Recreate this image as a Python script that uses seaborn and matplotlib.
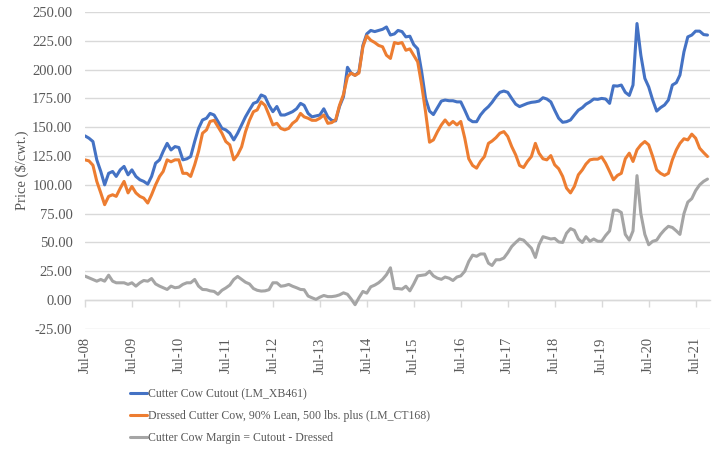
import numpy as np
import pandas as pd
import matplotlib
matplotlib.use('Agg')
import matplotlib.pyplot as plt
import matplotlib.dates as mdates
from matplotlib.ticker import FormatStrFormatter
import seaborn as sns

# monthly values, Jul-2008 .. Oct-2021
months = pd.date_range('2008-07-01', periods=160, freq='MS')

cutout = [142.5, 140.5, 137.6, 121.7, 111.6, 100, 110, 111.6, 107.3, 113,
          116, 108.7, 113, 107.3, 104.4, 103, 100.6, 107.3, 118.8, 121.7,
          129, 136, 130.3, 133.2, 132.4, 121.7, 122.6, 124.6, 137.6, 149,
          156.3, 157.8, 162, 160.6, 155, 149, 147.7, 144.8, 139, 144.8,
          152, 159, 165, 170.7, 172, 178, 176.5, 169, 163.5, 168,
          160.6, 160.6, 162, 163.5, 166, 170.7, 169, 162, 159, 159.8,
          160.6, 166, 159, 156, 155.5, 168, 176.5, 202, 197, 195,
          198, 221, 231, 234, 233, 234, 235, 237, 230, 231,
          234, 233, 228.4, 229, 221.7, 218, 198, 175, 164, 161,
          166.8, 172.7, 173.6, 173, 173, 172, 172, 164.8, 157, 154.8,
          154.8, 160.6, 164.8, 167.9, 171.6, 176.5, 180.3, 181.4, 180.3, 175,
          170, 167.9, 169.3, 170.7, 171.6, 172, 172.7, 175.6, 174.5, 172,
          164.8, 157.8, 154.3, 154.8, 156.3, 160.6, 164.8, 167, 170, 172,
          174.5, 174.2, 175, 174.5, 170.7, 186, 185.7, 186.6, 180.3, 177.6,
          186.6, 240, 212.5, 192.4, 185, 173.6, 164, 167, 169.3, 173.6,
          186.6, 188.7, 195.3, 215.4, 228.4, 230, 233.4, 233.4, 230.4, 230]

dressed = [121.7, 120.8, 117, 103, 93, 82.8, 90, 91.4, 90, 97,
           103, 93, 98.6, 93, 90, 88.5, 84.2, 91.4, 100, 107.3,
           111.6, 121.7, 120, 121.7, 121.7, 110, 110, 107.3, 117.4, 129,
           144.8, 147.7, 155, 156, 150.5, 144.8, 137.6, 134.7, 121.7, 126,
           133, 146, 156, 163.5, 165, 172, 169, 160.6, 152, 153.4,
           149, 147.7, 149, 153.4, 156, 162, 159, 157.8, 156, 156,
           157.8, 160.6, 153.4, 154, 156.3, 169, 178.5, 193.8, 197, 195,
           197, 219.8, 229.3, 225.5, 223.5, 221, 219.8, 212.5, 209.7, 223.5,
           222.6, 223.5, 216.8, 218, 212.5, 206.7, 186.6, 163.5, 137, 139,
           146, 152, 156.3, 152, 155, 152, 155, 140.5, 122.6, 116.8,
           114.5, 120.3, 124.6, 136, 138, 141, 144.8, 146.2, 142, 133.2,
           126, 116.8, 115, 120.3, 124.6, 136, 127.5, 122.6, 121.7, 125.4,
           117.4, 114, 107.3, 97.2, 93, 98.6, 108.7, 113, 118, 121.7,
           122.3, 122.3, 124.3, 118.8, 111.6, 104.4, 108.2, 110, 122.6, 127.5,
           120.3, 130.4, 134.7, 137.6, 134.7, 124.6, 113, 110, 108.2, 110,
           121.7, 130.4, 136, 140, 139, 144, 140.5, 131.8, 128, 124.6]

margin = [20.8, 19.3, 17.9, 16.4, 17.9, 16.4, 21.6, 16.4, 15, 15,
          15, 13.6, 15, 12.1, 15, 17, 16.4, 18.7, 14, 12.1,
          10.7, 9.2, 12.1, 10.7, 11.2, 13.6, 15, 15, 17.9, 12.1,
          9.2, 9, 8, 7.5, 5, 8.5, 10.5, 13, 17.9, 20.5,
          18, 15.5, 14, 10, 8.5, 7.8, 8, 9, 15, 15,
          12, 12.5, 13.6, 12, 10.7, 9.2, 9, 3.5, 2, 0.6,
          2.5, 4, 3, 3, 3.5, 4.5, 6.3, 5, 1, -4,
          2, 7.5, 6, 11.5, 13, 15, 18, 22, 28, 10,
          10, 9.5, 12, 8, 14, 21, 21.5, 22, 25, 21,
          19, 18, 20, 19, 17, 20, 21, 25, 33.5, 39,
          38, 40, 40, 32, 30, 35, 35, 36.5, 41, 46.5,
          50, 53, 52, 48.5, 45, 37, 48, 55, 54, 53,
          53.5, 50.5, 50, 58, 62, 60.5, 53, 50, 55, 51,
          53, 51, 51, 56, 60, 78, 78, 76, 57, 52,
          60, 108, 75, 57, 48, 51, 52, 57, 61, 64,
          63, 60, 57, 75, 85, 88, 95, 100, 103, 105]

labels = ['Cutter Cow Cutout (LM_XB461)',
          'Dressed Cutter Cow, 90% Lean, 500 lbs. plus (LM_CT168)',
          'Cutter Cow Margin = Cutout - Dressed']
colors = ['#4472C4', '#ED7D31', '#A5A5A5']

df = pd.DataFrame({'date': months, labels[0]: cutout,
                   labels[1]: dressed, labels[2]: margin})
long = df.melt(id_vars='date', var_name='series', value_name='price')

sns.set_style('white')
plt.rcParams['font.family'] = ['Liberation Serif', 'DejaVu Serif']
txt = '#595959'

fig = plt.figure(figsize=(7.2, 4.53), dpi=100)
ax = fig.add_axes([0.118, 0.274, 0.868, 0.6995])

sns.lineplot(data=long, x='date', y='price', hue='series', palette=colors,
             hue_order=labels, linewidth=2.2, ax=ax, legend=False)

ax.set_ylim(-25, 250)
ax.set_yticks(np.arange(-25, 251, 25))
ax.yaxis.set_major_formatter(FormatStrFormatter('%.2f'))
ax.set_xlim(months[0], pd.Timestamp('2021-10-20'))
ax.xaxis.set_major_locator(mdates.MonthLocator(bymonth=7))
ax.xaxis.set_major_formatter(mdates.DateFormatter('%b-%y'))
ax.grid(axis='y', color='#D9D9D9', linewidth=1)
ax.set_axisbelow(True)
for s in ax.spines.values():
    s.set_visible(False)
ax.tick_params(axis='x', length=0, pad=6, labelrotation=90, labelsize=10.5, colors=txt)
ax.tick_params(axis='y', length=0, pad=9, labelsize=10.5, colors=txt)
ax.set_xlabel('')
ax.set_ylabel('Price ($/cwt.)', fontsize=10.5, color=txt, labelpad=2)

# horizontal axis line at zero with its tick marks
zero_ax = ax.secondary_xaxis(25 / 275)
zero_ax.xaxis.set_major_locator(mdates.MonthLocator(bymonth=7))
zero_ax.set_xticklabels([])
zero_ax.tick_params(axis='x', length=5, width=1, color='#D9D9D9', direction='out')
zero_ax.spines['bottom'].set_color('#D9D9D9')
zero_ax.spines['bottom'].set_linewidth(1)

handles = [plt.Line2D([], [], color=c, linewidth=2.2) for c in colors]
fig.legend(handles, labels, loc='center left', bbox_to_anchor=(0.172, 0.081),
           frameon=False, fontsize=8.5, handlelength=1.45, handletextpad=0.1,
           labelspacing=0.85, borderpad=0, labelcolor=txt)

plt.savefig('out.png', dpi=100)
